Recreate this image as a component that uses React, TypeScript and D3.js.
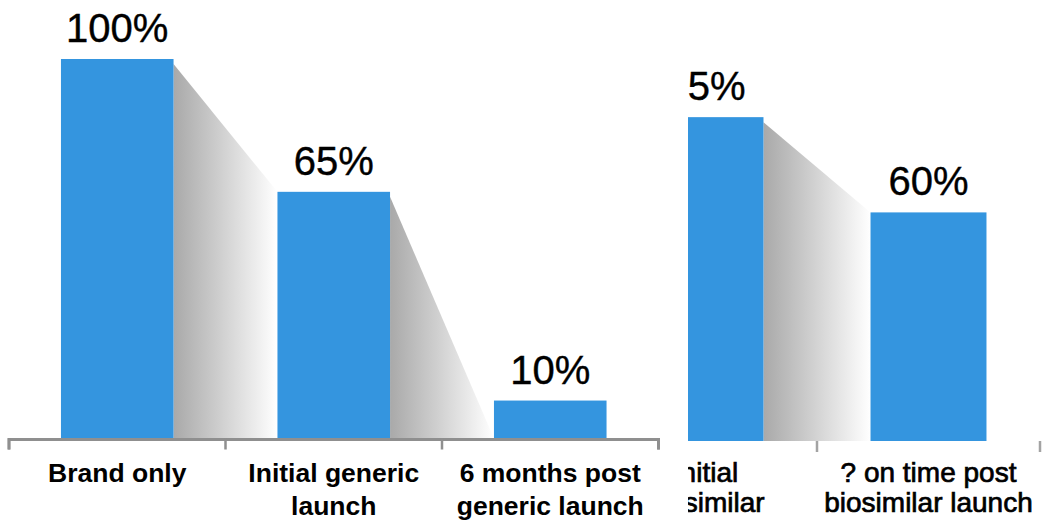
import React from "react";
import * as d3 from "d3";

// ---- Data ----
const leftCategories = ["Brand only", "Initial generic launch", "6 months post generic launch"];
const leftValues = [100, 65, 10];
const leftLabelLines = [["Brand only"], ["Initial generic", "launch"], ["6 months post", "generic launch"]];
const leftWedgeEnds = [65, 0];

const rightCategories = ["Initial biosimilar", "? on time post biosimilar launch"];
const rightValues = [85, 60];
const rightLabelLines = [["Initial", "biosimilar"], ["? on time post", "biosimilar launch"]];
const rightWedgeEnds = [60];

const W = 1046;
const H = 529;
const BAR = "#3495df";
const FONT = "'Liberation Sans', Arial, Helvetica, sans-serif";

type PanelProps = {
  cats: string[];
  vals: number[];
  lines: string[][];
  wedgeEnds: number[];
  x0: number;
  x1: number;
  base: number;
  top100: number;
  catBold: boolean;
  catSize: number;
  catStroke: number;
  lineGap: number;
  showAxisLine: boolean;
  axisColor: string;
  gradId: string;
};

function Panel(p: PanelProps) {
  const x = d3.scaleBand<string>().domain(p.cats).range([p.x0, p.x1]).paddingInner(0.48).paddingOuter(0.24);
  const y = d3.scaleLinear().domain([0, 100]).range([p.base, p.top100]);
  const bw = x.bandwidth();
  const step = x.step();
  const edges = p.cats.map((c) => (x(c) as number) - step * 0.24);
  edges.push(p.x1);
  const wedgeLine = d3.line<[number, number]>();
  return (
    <g>
      {p.wedgeEnds.map((end, i) => {
        const xa = (x(p.cats[i]) as number) + bw;
        const xb = x(p.cats[i + 1]) as number;
        const pts: [number, number][] = [
          [xa, y(p.vals[i]) + 5],
          [xb, y(end)],
          [xb, y(0)],
          [xa, y(0)],
        ];
        return <path key={"w" + i} d={wedgeLine(pts) + "Z"} fill={`url(#${p.gradId})`} />;
      })}
      {p.cats.map((c, i) => (
        <rect key={"b" + i} x={x(c)} y={y(p.vals[i])} width={bw} height={y(0) - y(p.vals[i])} fill={BAR} />
      ))}
      {p.cats.map((c, i) => (
        <text
          key={"v" + i}
          x={(x(c) as number) + bw / 2}
          y={y(p.vals[i]) - 17}
          textAnchor="middle"
          fontFamily={FONT}
          fontSize={40}
          fill="#000"
          stroke="#000"
          strokeWidth={0.4}
        >
          {d3.format(".0f")(p.vals[i]) + "%"}
        </text>
      ))}
      {p.showAxisLine && (
        <path
          d={`M${edges[0]},${p.base + 11}V${p.base + 1}H${p.x1}V${p.base + 11}`}
          fill="none"
          stroke={p.axisColor}
          strokeWidth={3}
        />
      )}
      {edges.map((e, i) => (
        <line key={"t" + i} x1={e} x2={e} y1={p.base} y2={p.base + 11} stroke={p.axisColor} strokeWidth={2.5} />
      ))}
      {p.cats.map((c, i) => (
        <text
          key={"c" + i}
          x={(x(c) as number) + bw / 2}
          y={482}
          textAnchor="middle"
          fontFamily={FONT}
          fontSize={p.catSize}
          fontWeight={p.catBold ? "bold" : "normal"}
          fill="#000"
          stroke="#000"
          strokeWidth={p.catStroke}
        >
          {p.lines[i].map((l, j) => (
            <tspan key={j} x={(x(c) as number) + bw / 2} dy={j === 0 ? 0 : p.lineGap}>
              {l}
            </tspan>
          ))}
        </text>
      ))}
    </g>
  );
}

export default function App() {
  return (
    <svg
      width={W}
      height={H}
      viewBox={`0 0 ${W} ${H}`}
      style={{ position: "absolute", left: 0, top: 0, background: "#fff" }}
    >
      <defs>
        <linearGradient id="wedgeGrad" x1="0" y1="0" x2="1" y2="0">
          <stop offset="0" stopColor="#a9a9a9" />
          <stop offset="0.45" stopColor="#cfcfcf" />
          <stop offset="1" stopColor="#ffffff" />
        </linearGradient>
        <clipPath id="rightClip">
          <rect x={688} y={0} width={W - 688} height={H} />
        </clipPath>
      </defs>
      <rect x={0} y={0} width={W} height={H} fill="#fff" />
      <Panel
        cats={leftCategories}
        vals={leftValues}
        lines={leftLabelLines}
        wedgeEnds={leftWedgeEnds}
        x0={9}
        x1={658.5}
        base={438.5}
        top100={59}
        catBold={true}
        catSize={26.5}
        catStroke={0}
        lineGap={33}
        showAxisLine={true}
        axisColor="#8f8f8f"
        gradId="wedgeGrad"
      />
      <g clipPath="url(#rightClip)">
        <Panel
          cats={rightCategories}
          vals={rightValues}
          lines={rightLabelLines}
          wedgeEnds={rightWedgeEnds}
          x0={594}
          x1={1040}
          base={441}
          top100={60}
          catBold={false}
          catSize={28}
          catStroke={0.7}
          lineGap={30}
          showAxisLine={false}
          axisColor="#a3a3a3"
          gradId="wedgeGrad"
        />
      </g>
    </svg>
  );
}
